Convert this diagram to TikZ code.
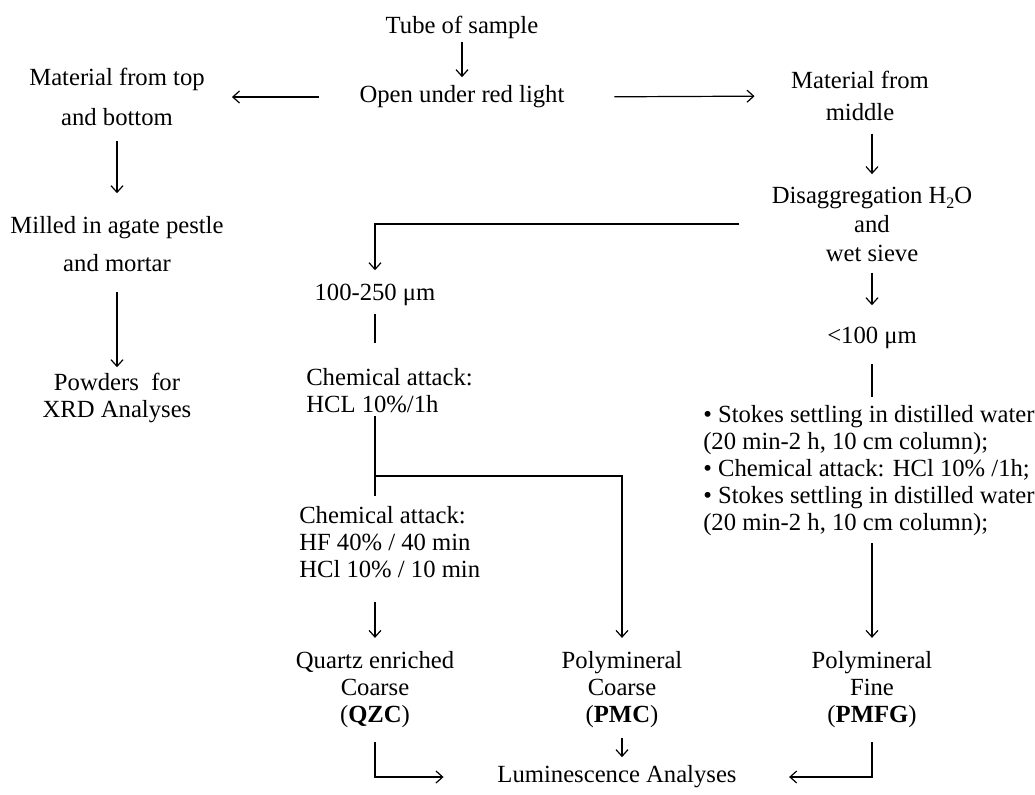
\documentclass[tikz,border=0pt]{standalone}
\usepackage{fontspec}
\setmainfont{Liberation Serif}
\usetikzlibrary{arrows.meta}

\begin{document}
\begin{tikzpicture}[x=0.75pt, y=-0.75pt, line width=0.9pt,
    every node/.style={font=\fontsize{18.5pt}{20.25pt}\selectfont, inner sep=2pt},
    lbl/.style={align=center},
    blk/.style={align=left, anchor=west},
    arr/.style={-{Straight Barb[length=5pt, width=9pt]}}]
    \useasboundingbox (0,0) rectangle (1035,794);

    % top of the scheme
    \node (tube) at (462,27) {Tube of sample};
    \node (open) at (462,97) {Open under red light};
    \node[lbl] (mattop) at (117,97) {Material from top\\[10pt]and bottom};
    \node[lbl] (matmid) at (860,96) {Material from\\[4pt]middle};

    % left branch
    \node[lbl] (milled) at (117,244) {Milled in agate pestle\\[8pt]and mortar};
    \node[lbl] (powders) at (117,398) {Powders\ \ for\\XRD Analyses};

    % right branch
    \node[lbl] (disag) at (872,224) {Disaggregation H\raisebox{-0.45ex}{\fontsize{12pt}{12pt}\selectfont 2}O\\[1.5pt]and\\[1.5pt]wet sieve};
    \node (fine) at (872,338) {<100 μm};
    \node[blk] (stokes) at (700,471) {\textbullet{} Stokes settling in distilled water\\(20 min-2 h, 10 cm column);\\\textbullet{} Chemical attack: HCl 10\% /1h;\\\textbullet{} Stokes settling in distilled water\\(20 min-2 h, 10 cm column);};

    % coarse fraction
    \node (coarse) at (375,295) {100-250 μm};
    \node[blk] (chema) at (303,391) {Chemical attack:\\HCL 10\%/1h};
    \node[blk] (chemb) at (296,542) {Chemical attack:\\HF 40\% / 40 min\\HCl 10\% / 10 min};
    \coordinate (split) at (375,476);

    % products
    \node[lbl] (qzc) at (375,690) {Quartz enriched\\Coarse\\(\textbf{QZC})};
    \node[lbl] (pmc) at (622,690) {Polymineral\\Coarse\\(\textbf{PMC})};
    \node[lbl] (pmfg) at (872,690) {Polymineral\\Fine\\(\textbf{PMFG})};
    \node (lum) at (617,777) {Luminescence Analyses};

    % connectors
    \draw[arr, shorten >=4pt] (tube) -- (tube |- open.north);
    \draw[arr, shorten <=28pt, shorten >=18pt] (open.west) -- (mattop.east);
    \draw[arr, shorten <=35pt, shorten >=25pt] (open.east) -- (matmid.west);
    \draw[arr, shorten <=9pt, shorten >=15pt] (mattop.south -| milled) -- (milled);
    \draw[arr, shorten <=13pt, shorten >=2pt] (milled) -- (powders);
    \draw[arr, shorten <=7pt, shorten >=7pt] (matmid.south -| disag) -- (disag);
    \draw[arr, shorten <=6pt, shorten >=14pt] (disag) -- (fine);
    \draw[shorten <=9pt, shorten >=4pt] (fine) -- (fine |- stokes.north);
    \draw[arr, shorten <=3pt, shorten >=8pt] (stokes.south -| pmfg) -- (pmfg);
    \draw[arr, shorten <=22pt, shorten >=8pt] (disag.west) -| (coarse.north);
    \draw[shorten <=4pt, shorten >=17pt] (coarse) -- (coarse |- chema.north);
    \draw[shorten >=5pt] (chema.south -| coarse) -- (chemb.north -| coarse);
    \draw[arr, shorten >=8pt] (split) -| (pmc.north);
    \draw[arr, shorten <=16pt, shorten >=8pt] (chemb.south -| qzc) -- (qzc);
    \draw[arr, shorten <=5pt, shorten >=4pt] (pmc) -- (pmc |- lum.north);
    \draw[arr, shorten <=8pt, shorten >=38pt] (qzc) |- (lum);
    \draw[arr, shorten <=8pt, shorten >=37pt] (pmfg) |- (lum);
\end{tikzpicture}
\end{document}
